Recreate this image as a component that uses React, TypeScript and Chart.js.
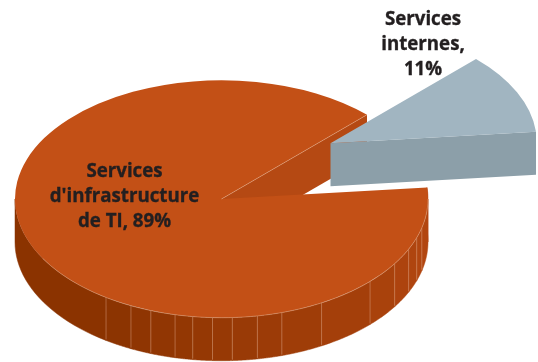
import React, { useEffect, useRef } from "react";
import { Chart, registerables } from "chart.js";

Chart.register(...registerables);

const categories = ["Services d'infrastructure de TI", "Services internes"];
const shares = [89, 11];
const labelLines = [
  ["Services", "d'infrastructure", "de TI, 89%"],
  ["Services", "internes,", "11%"],
];

const topColors = ["#c35016", "#a1b5c1"];
const faceColors = ["#b54913", "#8c9fa9"];
const labelAnchors = [
  { x: 124.5, y: 172 },
  { x: 423, y: 20 },
];
const lineHeight = 25;

// Vertical seams of the rim, in degrees clockwise from the right-hand side.
const rimSeams = [14, 19, 25, 33, 44, 61, 73, 80, 87, 92.5, 98, 103, 110, 116, 124];

const SQUASH = 0.575;
const DEPTH = 43;
const RADIUS = 206.5;
const EXPLODE_X = 109;
const EXPLODE_Y = -55.7;

const DEG = Math.PI / 180;

function mix(a: number[], b: number[], t: number) {
  const c = a.map((v, i) => Math.round(v + (b[i] - v) * t));
  return `rgb(${c[0]},${c[1]},${c[2]})`;
}

const rimColor = (deg: number) => {
  const t = Math.min(1, Math.max(0, (124 - deg) / 110));
  return mix([139, 51, 0], [178, 70, 16], t);
};

const pieceOf = (chart: any) => chart.getDatasetMeta(0).data as any[];

// Flattens the circle into the tilted disc seen on screen.
const project = (arc: any, angle: number, cy: number, drop = 0) => ({
  x: arc.x + arc.outerRadius * Math.cos(angle),
  y: cy + (arc.y + arc.outerRadius * Math.sin(angle) - cy) * SQUASH + drop,
});

function drawRim(ctx: CanvasRenderingContext2D, arc: any, cy: number) {
  const stops = [-6, 0, ...rimSeams, 180];
  const start = arc.startAngle / DEG;
  stops[0] = start;
  for (let i = 0; i < stops.length - 1; i++) {
    const a0 = stops[i];
    const a1 = stops[i + 1];
    const color = rimColor((a0 + a1) / 2);
    ctx.beginPath();
    for (let s = 0; s <= 24; s++) {
      const p = project(arc, (a0 + ((a1 - a0) * s) / 24) * DEG, cy);
      if (s === 0) ctx.moveTo(p.x, p.y);
      else ctx.lineTo(p.x, p.y);
    }
    for (let s = 24; s >= 0; s--) {
      const p = project(arc, (a0 + ((a1 - a0) * s) / 24) * DEG, cy, DEPTH);
      ctx.lineTo(p.x, p.y);
    }
    ctx.closePath();
    ctx.fillStyle = color;
    ctx.strokeStyle = color;
    ctx.lineWidth = 0.5;
    ctx.fill();
    ctx.stroke();
  }
  ctx.strokeStyle = "rgba(232,176,145,0.42)";
  ctx.lineWidth = 1;
  for (const deg of rimSeams) {
    const top = project(arc, deg * DEG, cy);
    const bottom = project(arc, deg * DEG, cy, DEPTH);
    ctx.beginPath();
    ctx.moveTo(top.x, top.y);
    ctx.lineTo(bottom.x, bottom.y - 1);
    ctx.stroke();
  }
}

function drawCutFace(ctx: CanvasRenderingContext2D, arc: any, cy: number, color: string) {
  const centerY = cy + (arc.y - cy) * SQUASH;
  const edge = project(arc, arc.endAngle, cy);
  ctx.beginPath();
  ctx.moveTo(arc.x, centerY);
  ctx.lineTo(edge.x, edge.y);
  ctx.lineTo(edge.x, edge.y + DEPTH);
  ctx.lineTo(arc.x, centerY + DEPTH);
  ctx.closePath();
  ctx.fillStyle = color;
  ctx.fill();
}

const tiltedPie = {
  id: "tiltedPie",
  afterDatasetsUpdate(chart: any) {
    const slice = pieceOf(chart)[1];
    slice.x += EXPLODE_X;
    slice.y += EXPLODE_Y / SQUASH;
  },
  beforeDatasetsDraw(chart: any) {
    const { ctx } = chart;
    const [main, slice] = pieceOf(chart);
    const cy = main.y;
    drawRim(ctx, main, cy);
    drawCutFace(ctx, main, cy, faceColors[0]);
    drawCutFace(ctx, slice, cy, faceColors[1]);
  },
  beforeDatasetDraw(chart: any) {
    const { ctx } = chart;
    const cy = pieceOf(chart)[0].y;
    ctx.save();
    ctx.translate(0, cy);
    ctx.scale(1, SQUASH);
    ctx.translate(0, -cy);
  },
  afterDatasetDraw(chart: any) {
    chart.ctx.restore();
  },
  afterDatasetsDraw(chart: any) {
    const { ctx } = chart;
    const main = pieceOf(chart)[0];
    const cy = main.y;
    // Thin highlights along the front edge and the cut of the large piece.
    ctx.strokeStyle = "rgba(235,190,160,0.5)";
    ctx.lineWidth = 0.8;
    ctx.beginPath();
    for (let deg = 0; deg <= 150; deg += 2) {
      const p = project(main, deg * DEG, cy);
      if (deg === 0) ctx.moveTo(p.x, p.y);
      else ctx.lineTo(p.x, p.y);
    }
    ctx.stroke();
    const edge = project(main, main.endAngle, cy);
    ctx.beginPath();
    ctx.moveTo(main.x, cy);
    ctx.lineTo(edge.x, edge.y);
    ctx.stroke();

    ctx.fillStyle = "#231f20";
    ctx.strokeStyle = "#231f20";
    ctx.lineWidth = 0.35;
    ctx.font = 'bold 18.7px "Open Sans"';
    ctx.textAlign = "center";
    ctx.textBaseline = "middle";
    labelLines.forEach((lines, i) => {
      lines.forEach((line, j) => {
        const y = labelAnchors[i].y + j * lineHeight;
        ctx.fillText(line, labelAnchors[i].x, y);
        ctx.strokeText(line, labelAnchors[i].x, y);
      });
    });
  },
};

export default function App() {
  const canvasRef = useRef<HTMLCanvasElement>(null);

  useEffect(() => {
    const chart = new Chart(canvasRef.current as HTMLCanvasElement, {
      type: "pie",
      data: {
        labels: categories,
        datasets: [
          {
            data: shares,
            backgroundColor: topColors,
            borderWidth: 0,
            radius: RADIUS,
            hoverOffset: 0,
            clip: false,
          } as any,
        ],
      },
      options: {
        responsive: false,
        animation: false,
        rotation: 84.4,
        layout: { padding: { left: 0, right: 95, top: 36, bottom: 0 } },
        plugins: { legend: { display: false }, tooltip: { enabled: false } },
      },
      plugins: [tiltedPie],
    });
    return () => chart.destroy();
  }, []);

  return (
    <div style={{ position: "fixed", left: 0, top: 0, width: 538, height: 362, background: "#fff" }}>
      <canvas ref={canvasRef} width={538} height={362} style={{ display: "block" }} />
    </div>
  );
}
